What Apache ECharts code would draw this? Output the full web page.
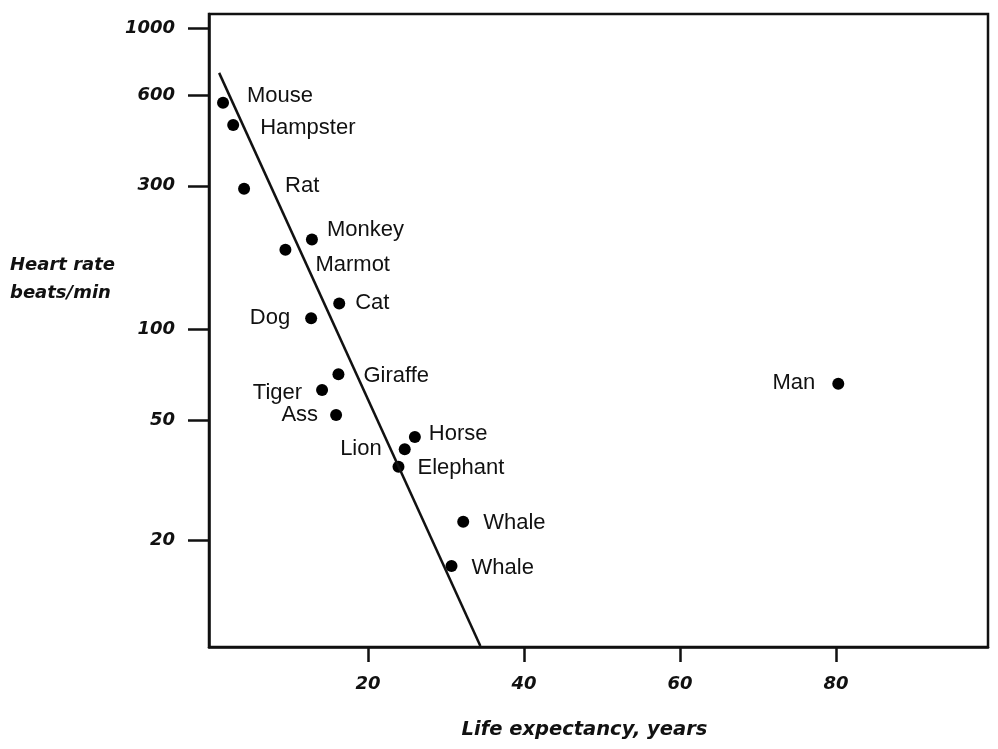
<!DOCTYPE html>
<html>
<head>
<meta charset="utf-8">
<script src="https://cdn.jsdelivr.net/npm/echarts@6/dist/echarts.min.js"></script>
<style>
  html, body { margin: 0; padding: 0; background: #fff; }
  #main { width: 998px; height: 749px; }
</style>
</head>
<body>
<div id="main"></div>
<script>
// data
const animals   = ['Mouse', 'Hampster', 'Rat', 'Monkey', 'Marmot', 'Cat', 'Dog', 'Giraffe',
                   'Tiger', 'Ass', 'Horse', 'Lion', 'Elephant', 'Whale', 'Whale', 'Man'];
const lifeYears = [1.4, 2.7, 4.1, 12.8, 9.4, 16.3, 12.7, 16.2, 14.1, 15.9, 26.0, 24.7, 23.9, 32.2, 30.7, 80.3];
const heartRate = [566, 477, 293, 199, 184, 122, 109, 71, 63, 52, 44, 40, 35, 23, 16.4, 66];

// the drawn trend line (two ends)
const trendYears = [0.9, 34.4];
const trendRate  = [711, 8.9];

const xTicks = [20, 40, 60, 80];
const yTicks = [20, 50, 100, 300, 600, 1000];

// where each name sits next to its dot (same order as animals)
const labelSide  = ['right', 'right', 'right', 'right', 'right', 'right', 'left', 'right',
                    'left', 'left', 'right', 'left', 'right', 'right', 'right', 'left'];
const labelGap   = [18, 21, 35, 9, 24, 10, 15, 19, 14, 12, 8, 17, 13, 14, 14, 17];
const labelNudge = [-7, 3, -3, -10, 15, -1, 0, 2, 3, 0, -3, 0, 1, 1, 2, -1];

const FONT = "'Liberation Sans', Arial, Helvetica, sans-serif";
const HEAVY = "'DejaVu Sans', 'Liberation Sans', sans-serif";
const INK = '#111';

const chart = echarts.init(document.getElementById('main'));

const points = animals.map((name, i) => ({
  name: name,
  value: [lifeYears[i], heartRate[i]],
  label: {
    position: labelSide[i],
    distance: labelGap[i],
    offset: [0, labelNudge[i]]
  }
}));

const axisText = {
  fontFamily: HEAVY, fontSize: 18, fontWeight: 'bold', fontStyle: 'italic', color: INK
};

const option = {
  backgroundColor: '#fff',
  animation: false,
  title: {
    text: 'Heart rate\nbeats/min',
    left: 5,
    top: 246,
    textStyle: Object.assign({}, axisText, { lineHeight: 28 })
  },
  grid: {
    left: 209, right: 10, top: 14, bottom: 102,
    show: true, borderColor: INK, borderWidth: 2.5
  },
  xAxis: {
    type: 'value',
    min: -0.4,
    max: 99.5,
    name: 'Life expectancy, years',
    nameLocation: 'middle',
    nameGap: 73,
    nameTextStyle: Object.assign({}, axisText, { fontSize: 19.5, padding: [0, 28, 0, 0] }),
    axisLine: { onZero: false, lineStyle: { color: INK, width: 2.5 } },
    axisTick: { show: true, inside: false, length: 15, customValues: xTicks,
                lineStyle: { color: INK, width: 2.5 } },
    axisLabel: Object.assign({ customValues: xTicks, margin: 28 }, axisText),
    splitLine: { show: false }
  },
  yAxis: {
    type: 'log',
    logBase: 10,
    min: 8.83,
    max: 1115,
    axisLine: { onZero: false, lineStyle: { color: INK, width: 2.5 } },
    axisTick: { show: true, inside: false, length: 21, customValues: yTicks,
                lineStyle: { color: INK, width: 2.5 } },
    axisLabel: Object.assign({ customValues: yTicks, margin: 34,
                               formatter: v => String(v) }, axisText),
    splitLine: { show: false },
    minorTick: { show: false }
  },
  series: [
    {
      type: 'line',
      data: trendYears.map((x, i) => [x, trendRate[i]]),
      symbol: 'none',
      lineStyle: { color: INK, width: 2.5 },
      silent: true
    },
    {
      type: 'scatter',
      data: points,
      symbolSize: 12,
      itemStyle: { color: '#000', opacity: 1 },
      label: {
        show: true,
        formatter: '{b}',
        fontFamily: FONT, fontSize: 22, color: INK
      }
    }
  ]
};

chart.setOption(option);
</script>
</body>
</html>
